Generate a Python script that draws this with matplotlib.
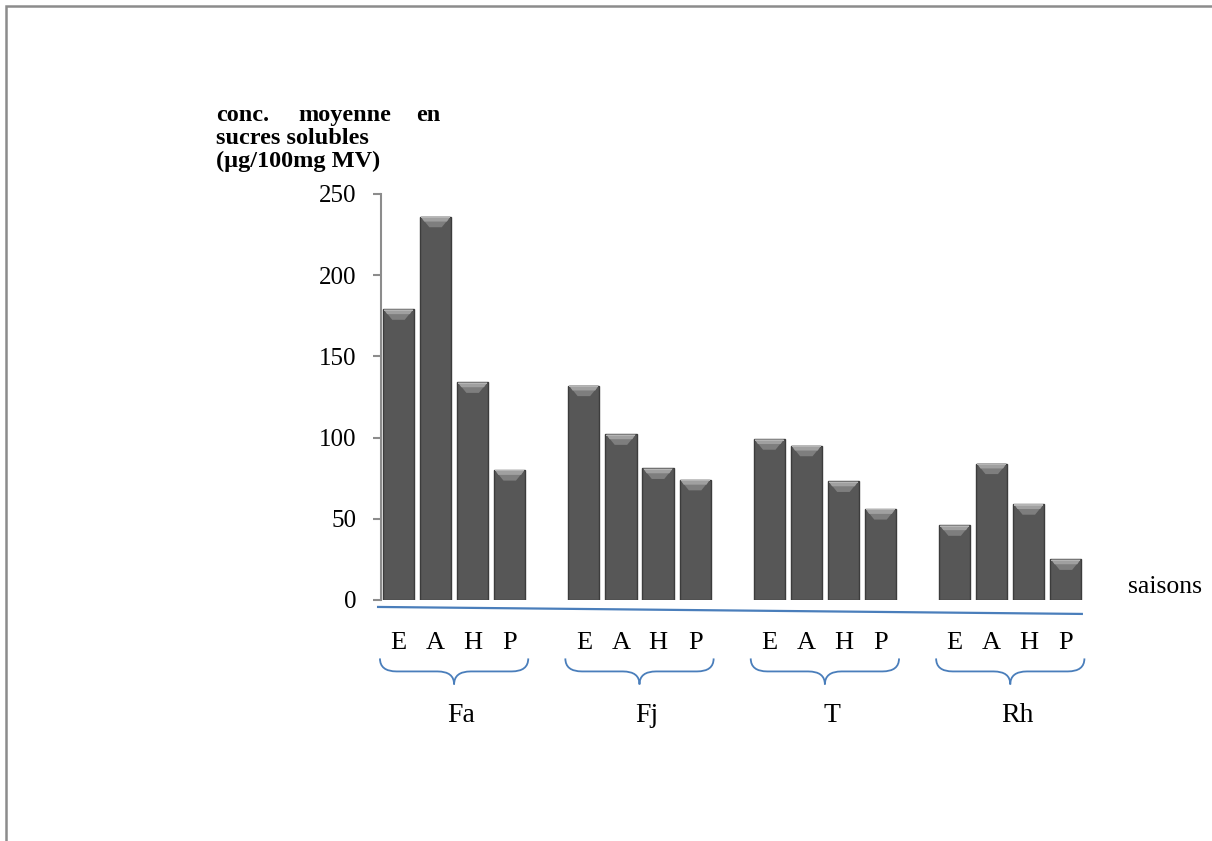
import matplotlib.pyplot as plt
import numpy as np
from matplotlib.patches import Rectangle, Polygon, PathPatch
from matplotlib.path import Path

plt.rcParams['font.family'] = ['Liberation Serif', 'DejaVu Serif']

# mean soluble sugar concentration per species and season
species = ['Fa', 'Fj', 'T', 'Rh']
seasons = ['E', 'A', 'H', 'P']
fa = [179, 236, 134, 80]
fj = [132, 102, 81, 74]
t = [99, 95, 73, 56]
rh = [46, 84, 59, 25]
values = [fa, fj, t, rh]

yticks = [0, 50, 100, 150, 200, 250]

fig = plt.figure(figsize=(12.12, 8.41), dpi=100)
ax = fig.add_axes([0.3144, 0.2866, 0.5834, 0.4828])

bar_w = 0.84
blue = '#4a7ebb'

for g, vals in enumerate(values):
    xs = np.arange(len(vals)) + g * 5
    ax.bar(xs, vals, width=bar_w, color='#575757', edgecolor='#3c3c3c',
           linewidth=1.0, zorder=3)
    for i, (x, v) in enumerate(zip(xs, vals)):
        x0, x1 = x - bar_w / 2, x + bar_w / 2
        d = bar_w * 0.3
        # bevelled top of each bar
        ax.add_patch(Polygon([(x0 + 0.02, v), (x1 - 0.02, v), (x1 - d, v - 6.5), (x0 + d, v - 6.5)],
                             closed=True, facecolor='#7e7e7e', edgecolor='none', zorder=4))
        ax.add_patch(Polygon([(x0 + 0.03, v - 0.2), (x1 - 0.03, v - 0.2),
                              (x1 - d * 0.45, v - 3.0), (x0 + d * 0.45, v - 3.0)],
                             closed=True, facecolor='#a0a0a0', edgecolor='none', zorder=4))
        ax.add_patch(Rectangle((x0 + 0.03, v - 0.9), bar_w - 0.06, 0.7,
                               facecolor='#b5b5b5', edgecolor='none', zorder=5))
        # season letter
        ax.text(x, -26.5, seasons[i], ha='center', va='center', fontsize=19, clip_on=False)

    # curly brace under the group
    bx0, bx1 = g * 5 - 0.5, g * 5 + 3.5
    bm = (bx0 + bx1) / 2
    yt, ym, yp = -36, -44, -52
    r = 0.45
    verts = [(bx0, yt), (bx0, ym), (bx0 + r, ym),
             (bm - r, ym), (bm, ym), (bm, yp),
             (bm, ym), (bm + r, ym),
             (bx1 - r, ym), (bx1, ym), (bx1, yt)]
    codes = [Path.MOVETO, Path.CURVE3, Path.CURVE3,
             Path.LINETO, Path.CURVE3, Path.CURVE3,
             Path.CURVE3, Path.CURVE3,
             Path.LINETO, Path.CURVE3, Path.CURVE3]
    ax.add_patch(PathPatch(Path(verts, codes), facecolor='none', edgecolor=blue,
                           linewidth=1.3, clip_on=False))
    ax.text(bm + 0.2, -71, species[g], ha='center', va='center', fontsize=20, clip_on=False)

# blue baseline under the bars
ax.plot([-0.55, 18.43], [-4.3, -8.6], color=blue, linewidth=1.6, clip_on=False)

ax.text(19.68, 8, 'saisons', ha='left', va='center', fontsize=18.5, clip_on=False)

ax.set_xlim(-0.47, 18.6)
ax.set_ylim(0, 250)
ax.set_yticks(yticks)
ax.set_xticks([])
ax.tick_params(axis='y', labelsize=18, length=6, width=1.5, color='#8c8c8c', pad=12)
for s in ['top', 'right', 'bottom']:
    ax.spines[s].set_visible(False)
ax.spines['left'].set_color('#8c8c8c')
ax.spines['left'].set_linewidth(1.5)

# y axis title, first line spread over the box width
fw = 1212.0
fh = 841.0
kw = dict(fontsize=17.5, fontweight='bold', va='baseline', ha='left')
fig.text(216 / fw, 1 - 121 / fh, 'conc.', **kw)
fig.text(298 / fw, 1 - 121 / fh, 'moyenne', **kw)
fig.text(440 / fw, 1 - 121 / fh, 'en', fontsize=17.5, fontweight='bold', va='baseline', ha='right')
fig.text(216 / fw, 1 - 144 / fh, 'sucres solubles', **kw)
fig.text(216 / fw, 1 - 167 / fh, '(µg/100mg MV)', **kw)

# outer frame
fig.patches.append(Rectangle((6 / fw, -0.1), 1.2, 1.1 - 6 / fh,
                             transform=fig.transFigure, fill=False,
                             edgecolor='#8c8c8c', linewidth=1.8))

fig.savefig('out.png', dpi=100)
